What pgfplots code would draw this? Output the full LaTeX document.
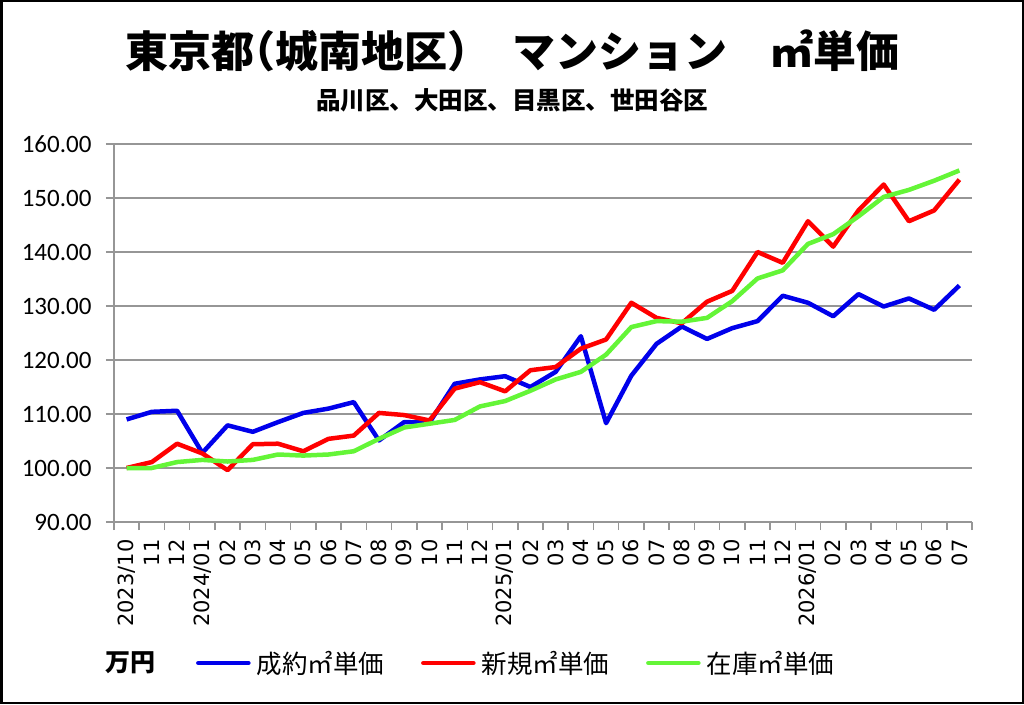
\documentclass[border=0pt]{standalone}
\usepackage{pgfplots}
\pgfplotsset{compat=1.18}
\usepackage{pgfplotstable}
\usepackage{fontspec}
\setmainfont{Noto Sans}
\newfontfamily\cjk{Noto Sans CJK JP}
\newfontfamily\cjkh{Noto Sans CJK JP}[RawFeature=+halt]
\newfontfamily\ytickfont{Carlito}
\newfontfamily\xtickfont{DejaVu Sans}
\definecolor{cblue}{RGB}{0,0,235}
\definecolor{cred}{RGB}{255,0,0}
\definecolor{cgreen}{RGB}{100,245,55}
\definecolor{cgrid}{RGB}{150,150,150}

\pgfplotstableread{
x seiyaku shinki zaiko
0.5 109.0 100.0 100.0
1.5 110.4 101.1 100.0
2.5 110.6 104.5 101.1
3.5 102.8 102.7 101.5
4.5 107.9 99.6 101.2
5.5 106.7 104.4 101.5
6.5 108.5 104.5 102.5
7.5 110.2 103.1 102.3
8.5 111.0 105.4 102.5
9.5 112.2 106.0 103.1
10.5 105.1 110.2 105.4
11.5 108.5 109.8 107.5
12.5 108.4 108.8 108.2
13.5 115.6 114.7 108.9
14.5 116.4 115.9 111.4
15.5 117.0 114.2 112.4
16.5 115.0 118.1 114.3
17.5 117.8 118.7 116.4
18.5 124.4 122.1 117.8
19.5 108.3 123.8 121.0
20.5 117.1 130.6 126.1
21.5 123.0 127.8 127.2
22.5 126.2 126.8 127.1
23.5 123.9 130.8 127.8
24.5 125.9 132.8 130.9
25.5 127.2 140.0 135.1
26.5 131.9 138.0 136.6
27.5 130.6 145.7 141.5
28.5 128.1 141.0 143.3
29.5 132.2 147.7 146.6
30.5 129.9 152.5 150.2
31.5 131.4 145.7 151.5
32.5 129.3 147.7 153.2
33.5 133.8 153.4 155.1
}\datatable

\begin{document}
\begin{tikzpicture}[x=1pt,y=1pt]
\useasboundingbox (0,0) rectangle (1024,704);
\draw[line width=2.5pt,black] (1.25,1.25) rectangle (1022.75,702.75);

\node[font=\cjk\bfseries\fontsize{43}{50}\selectfont] at (512,653) {東京都{\cjkh\bfseries（}城南地区{\cjkh\bfseries）}　マンション　㎡単価};
\node[font=\cjk\bfseries\fontsize{24.5}{29}\selectfont] at (512,604) {品川区、大田区、目黒区、世田谷区};
\node[font=\cjk\bfseries\fontsize{25}{30}\selectfont, anchor=west, inner sep=0pt] at (105,41) {万円};

\begin{axis}[
  at={(114pt,182pt)}, anchor=south west,
  scale only axis, width=858pt, height=378pt,
  xmin=0, xmax=34, ymin=90, ymax=160,
  axis x line=bottom, axis y line=left,
  axis line style={-, draw=cgrid, line width=1.5pt},
  ytick={90,100,...,160},
  ymajorgrids, grid style={cgrid, line width=1.5pt},
  /pgf/number format/fixed,
  /pgf/number format/fixed zerofill,
  /pgf/number format/precision=2,
  /pgf/number format/assume math mode=true,
  yticklabel style={font=\ytickfont\fontsize{25}{29}\selectfont},
  yticklabel shift=11pt,
  ytick style={draw=cgrid, line width=1.5pt},
  major tick length=8pt, tick align=outside,
  xtick={0.5,1.5,...,33.5},
  xticklabels={2023/10,11,12,2024/01,02,03,04,05,06,07,08,09,10,11,12,2025/01,02,03,04,05,06,07,08,09,10,11,12,2026/01,02,03,04,05,06,07},
  x tick style={draw=none},
  minor xtick={0,1,...,34},
  minor x tick style={draw=cgrid, line width=1.5pt},
  minor tick length=8pt,
  xticklabel style={rotate=90, anchor=east, font=\xtickfont\fontsize{21}{24}\selectfont},
  xticklabel shift=6pt,
  legend columns=3,
  legend style={at={(0.092,-0.373)}, anchor=west, draw=none, fill=none,
     font=\cjk\fontsize{25.5}{30}\selectfont,
     nodes={inner sep=1pt},
     /tikz/every odd column/.append style={column sep=5pt},
     /tikz/every even column/.append style={column sep=36pt}},
  legend image code/.code={\draw[#1, line cap=round] (2pt,0pt) -- (52pt,0pt);},
]
\addplot[cblue, line width=4.5pt, line join=round] table[x=x,y=seiyaku]{\datatable};
\addlegendentry{成約㎡単価}
\addplot[cred, line width=4.5pt, line join=round] table[x=x,y=shinki]{\datatable};
\addlegendentry{新規㎡単価}
\addplot[cgreen, line width=4.5pt, line join=round] table[x=x,y=zaiko]{\datatable};
\addlegendentry{在庫㎡単価}
\end{axis}
\end{tikzpicture}
\end{document}
